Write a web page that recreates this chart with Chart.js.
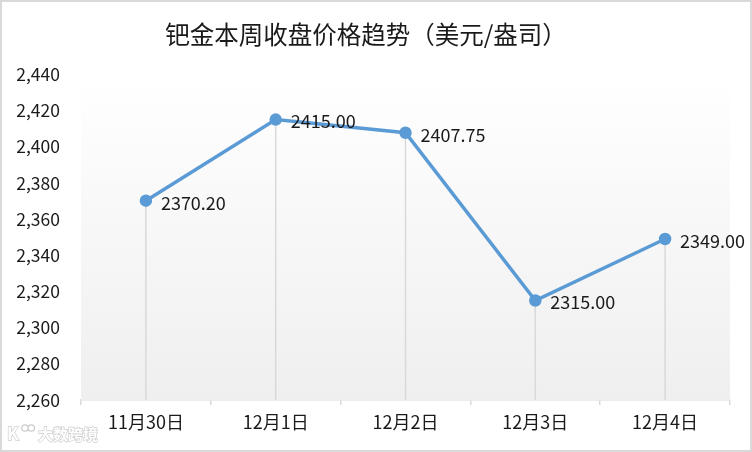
<!DOCTYPE html>
<html>
<head>
<meta charset="utf-8">
<script src="https://cdn.jsdelivr.net/npm/chart.js@4.4.0/dist/chart.umd.min.js"></script>
<style>
  html, body { margin: 0; padding: 0; background: #fff; }
  #wrap {
    width: 752px; height: 452px; box-sizing: border-box;
    border: 2px solid #d9d9d9; position: relative;
  }
  #chart { display: block; }
</style>
</head>
<body>
<div id="wrap"><canvas id="chart" width="748" height="448"></canvas></div>
<script>
const chartTitle = '钯金本周收盘价格趋势（美元/盎司）'
const days = ['11月30日', '12月1日', '12月2日', '12月3日', '12月4日']
const closePrices = [2370.20, 2415.00, 2407.75, 2315.00, 2349.00]
const yMin = 2260
const yMax = 2440
const yStep = 20

const fontFamily = "'Noto Sans CJK SC', 'Noto Sans', sans-serif"

// plot area fill, drop lines, value labels, watermark
const decorations = {
  id: 'decorations',
  beforeDatasetsDraw(chart) {
    const { ctx, chartArea } = chart
    const g = ctx.createLinearGradient(0, chartArea.top, 0, chartArea.bottom)
    g.addColorStop(0, '#ffffff')
    g.addColorStop(1, '#efefef')
    ctx.save()
    ctx.fillStyle = g
    ctx.fillRect(chartArea.left, chartArea.top, chartArea.right - chartArea.left, chartArea.bottom - chartArea.top)

    const meta = chart.getDatasetMeta(0)
    ctx.strokeStyle = '#d9d9d9'
    ctx.lineWidth = 1.5
    meta.data.forEach(pt => {
      ctx.beginPath()
      ctx.moveTo(pt.x, pt.y)
      ctx.lineTo(pt.x, chartArea.bottom)
      ctx.stroke()
    })
    ctx.restore()
  },
  afterDatasetsDraw(chart) {
    const { ctx } = chart
    const meta = chart.getDatasetMeta(0)
    ctx.save()
    ctx.font = '18px ' + fontFamily
    ctx.fillStyle = '#1a1a1a'
    ctx.textAlign = 'left'
    ctx.textBaseline = 'middle'
    meta.data.forEach((pt, i) => {
      ctx.fillText(closePrices[i].toFixed(2), pt.x + 15, pt.y + 2)
    })
    ctx.restore()
  },
  afterDraw(chart) {
    const { ctx } = chart
    ctx.save()
    ctx.font = 'bold 17px ' + fontFamily
    ctx.textBaseline = 'middle'
    ctx.lineWidth = 1.3
    ctx.strokeStyle = '#cccccc'
    ctx.fillStyle = '#ffffff'
    ctx.strokeText('K', 5, 432)
    ctx.fillText('K', 5, 432)
    ctx.beginPath()
    ctx.arc(23, 426, 3.2, 0, Math.PI * 2)
    ctx.moveTo(32.5, 426)
    ctx.arc(29.3, 426, 3.2, 0, Math.PI * 2)
    ctx.stroke()
    ctx.font = 'bold 15px ' + fontFamily
    ctx.strokeText('大数跨境', 36, 432)
    ctx.fillText('大数跨境', 36, 432)
    ctx.restore()
  }
}

new Chart(document.getElementById('chart'), {
  type: 'line',
  data: {
    labels: days,
    datasets: [{
      data: closePrices,
      borderColor: '#5b9bd5',
      backgroundColor: '#5b9bd5',
      borderWidth: 3.5,
      pointRadius: 4.5,
      pointHoverRadius: 4.5,
      tension: 0,
      fill: false
    }]
  },
  options: {
    responsive: false,
    animation: false,
    layout: { padding: { left: 0, right: 20, top: 0, bottom: 0 } },
    plugins: {
      legend: { display: false },
      tooltip: { enabled: false },
      title: {
        display: true,
        text: chartTitle,
        color: '#1a1a1a',
        font: { family: fontFamily, size: 24.5, weight: 'normal' },
        padding: { top: 18, bottom: 25 }
      }
    },
    scales: {
      x: {
        offset: true,
        grid: {
          offset: true,
          drawOnChartArea: false,
          drawTicks: true,
          tickLength: 5,
          color: '#d9d9d9',
          lineWidth: 1.5
        },
        border: { display: true, color: '#d9d9d9', width: 1.5 },
        ticks: {
          color: '#1a1a1a',
          font: { family: fontFamily, size: 18 },
          padding: 6,
          maxRotation: 0
        },
        afterFit(scale) { scale.height = 50 }
      },
      y: {
        min: yMin,
        max: yMax,
        grid: { display: false, drawTicks: false },
        border: { display: false },
        ticks: {
          stepSize: yStep,
          color: '#1a1a1a',
          font: { family: fontFamily, size: 17.5 },
          padding: 21,
          callback: v => v.toLocaleString('en-US')
        },
        afterFit(scale) { scale.width = 79 }
      }
    }
  },
  plugins: [decorations]
})
</script>
</body>
</html>
